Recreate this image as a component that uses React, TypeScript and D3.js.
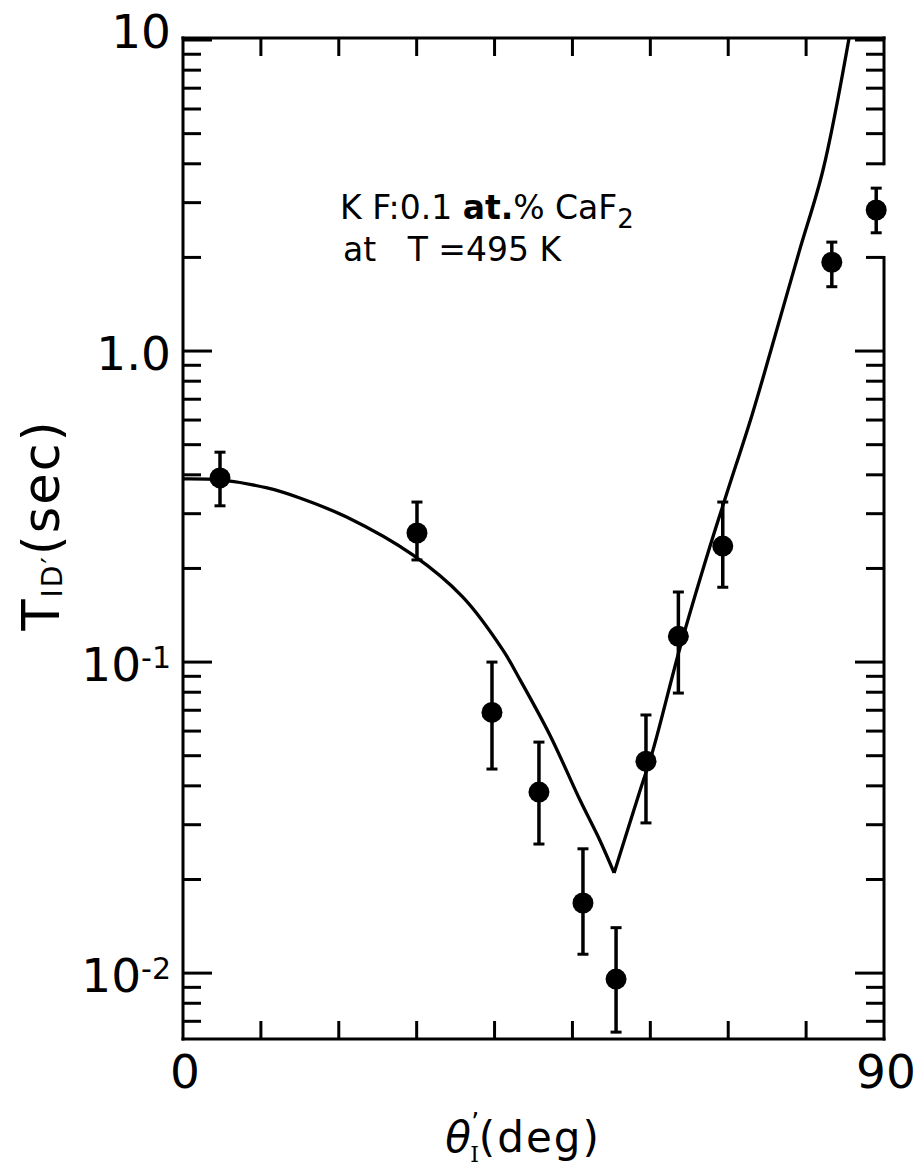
import React from "react";
import * as d3 from "d3";

// ---- data ----
const thetaData = [4.75, 30.04, 39.67, 45.7, 51.35, 55.6, 59.44, 63.6, 69.3, 83.3, 89.0];
const t1Data = [0.391, 0.26, 0.0689, 0.0382, 0.0168, 0.00957, 0.048, 0.121, 0.236, 1.93, 2.84];
const errLow = [0.318, 0.213, 0.0453, 0.026, 0.0115, 0.00646, 0.0304, 0.0795, 0.174, 1.61, 2.4];
const errHigh = [0.473, 0.327, 0.1, 0.0553, 0.0251, 0.014, 0.0676, 0.168, 0.327, 2.24, 3.34];

const curveLeftTheta = [0, 4.75, 10.8, 15.0, 21.07, 29.5, 35.9, 41.1, 43.3, 47.1, 50.97, 53.5, 55.35];
const curveLeftT = [0.388, 0.385, 0.363, 0.337, 0.292, 0.221, 0.162, 0.109, 0.0875, 0.0583, 0.036, 0.0268, 0.021];
const curveRightTheta = [55.35, 58.7, 60.34, 63.8, 67.6, 69.84, 73.05, 75.5, 79.09, 82.17, 85.5];
const curveRightT = [0.021, 0.0388, 0.0521, 0.111, 0.233, 0.35, 0.622, 1.01, 2.08, 3.82, 10.1];

const yMajorValues = [10, 1, 0.1, 0.01];
const yMajorBase = ["10", "1.0", "10", "10"];
const yMajorSup = ["", "", "-1", "-2"];
const xEndValues = [0, 90];
const xEndLabels = ["0", "90"];
const rightAxisGap = [2, 4];

const W = 924;
const H = 1169;
const L = 183, R = 884, T = 38, B = 1039;

export default function App() {
  const x = d3.scaleLinear().domain([0, 90]).range([L, R]);
  const y = d3.scaleLog().domain([0.00614, 10.15]).range([B, T]);

  const yTicks = y.ticks();
  const isMajor = (v: number) => Math.abs(Math.log10(v) - Math.round(Math.log10(v))) < 1e-6;
  const xTicks = x.ticks(9).filter((v) => v > 0 && v < 90);

  const line = d3
    .line<[number, number]>()
    .x((d) => x(d[0]))
    .y((d) => y(d[1]))
    .curve(d3.curveCatmullRom.alpha(0.5));
  const leftPts: [number, number][] = curveLeftTheta.map((t, i) => [t, curveLeftT[i]]);
  const rightPts: [number, number][] = curveRightTheta.map((t, i) => [t, curveRightT[i]]);

  const font = "'DejaVu Sans', sans-serif";
  const sw = 3;

  return (
    <svg
      width={W}
      height={H}
      style={{ position: "absolute", left: 0, top: 0, background: "#fff" }}
      xmlns="http://www.w3.org/2000/svg"
    >
      <defs>
        <clipPath id="plot">
          <rect x={L} y={T} width={R - L} height={B - T} />
        </clipPath>
      </defs>
      <rect x={0} y={0} width={W} height={H} fill="#fff" />

      {/* frame */}
      <g stroke="#000" strokeWidth={sw} strokeLinecap="square" fill="none">
        <line x1={L} y1={T} x2={R} y2={T} />
        <line x1={L} y1={B} x2={R} y2={B} />
        <line x1={L} y1={T} x2={L} y2={B} />
        <line x1={R} y1={T} x2={R} y2={y(rightAxisGap[1])} />
        <line x1={R} y1={y(rightAxisGap[0])} x2={R} y2={B} />
      </g>

      {/* y ticks */}
      <g stroke="#000" strokeWidth={sw}>
        {yTicks.map((v, i) => {
          const len = isMajor(v) ? 29 : 18;
          const yy = y(v);
          const inGap = v > rightAxisGap[0] && v < rightAxisGap[1];
          return (
            <g key={i}>
              <line x1={L} x2={L + len} y1={yy} y2={yy} />
              {!inGap && <line x1={R} x2={R - len} y1={yy} y2={yy} />}
            </g>
          );
        })}
      </g>

      {/* x ticks */}
      <g stroke="#000" strokeWidth={sw}>
        {xTicks.map((v, i) => (
          <g key={i}>
            <line x1={x(v)} x2={x(v)} y1={T} y2={T + 18} />
            <line x1={x(v)} x2={x(v)} y1={B} y2={B - 18} />
          </g>
        ))}
      </g>

      {/* y tick labels */}
      <g fontFamily={font} fontSize={47} fill="#000" textAnchor="end">
        {yMajorValues.map((v, i) => (
          <text key={i} x={L - 12} y={y(v) + (i === 0 ? 8 : 19)}>
            {yMajorBase[i]}
            {yMajorSup[i] && (
              <tspan fontSize={30} dy={-13}>
                {yMajorSup[i]}
              </tspan>
            )}
          </text>
        ))}
      </g>

      {/* x tick labels */}
      <g fontFamily={font} fontSize={47} fill="#000" textAnchor="middle">
        {xEndValues.map((v, i) => (
          <text key={i} x={x(v) + 2} y={1088}>
            {xEndLabels[i]}
          </text>
        ))}
      </g>

      {/* theory curve */}
      <g clipPath="url(#plot)" fill="none" stroke="#000" strokeWidth={3.3} strokeLinejoin="miter">
        <path d={line(leftPts) || ""} />
        <path d={line(rightPts) || ""} />
      </g>

      {/* data with error bars */}
      <g stroke="#000" fill="#000">
        {thetaData.map((t, i) => {
          const cx = x(t);
          return (
            <g key={i}>
              <line x1={cx} x2={cx} y1={y(errLow[i])} y2={y(errHigh[i])} strokeWidth={3.5} />
              <line x1={cx - 5.5} x2={cx + 5.5} y1={y(errLow[i])} y2={y(errLow[i])} strokeWidth={3} />
              <line x1={cx - 5.5} x2={cx + 5.5} y1={y(errHigh[i])} y2={y(errHigh[i])} strokeWidth={3} />
              <circle cx={cx} cy={y(t1Data[i])} r={10.5} stroke="none" />
            </g>
          );
        })}
      </g>

      {/* annotation */}
      <g fontFamily={font} fontSize={33} fill="#000">
        <text x={340} y={219} style={{ whiteSpace: "pre" }}>
          {"K F:0.1 "}
          <tspan fontWeight="bold">at.</tspan>
          {"% CaF"}
          <tspan fontSize={26} dy={9}>2</tspan>
        </text>
        <text x={343} y={261} style={{ whiteSpace: "pre" }}>
          {"at   T =495 K"}
        </text>
      </g>

      {/* y axis title */}
      <text
        transform="translate(59,525) rotate(-90)"
        fontFamily={font}
        fontSize={51}
        fill="#000"
        textAnchor="middle"
        letterSpacing={2}
      >
        T
        <tspan fontSize={28} dy={3}>ID′</tspan>
        <tspan dy={-3}>(sec)</tspan>
      </text>

      {/* x axis title */}
      <text x={523} y={1152} fontFamily={font} fontSize={42} fill="#000" textAnchor="middle">
        <tspan fontStyle="italic">θ</tspan>
        <tspan fontSize={26} dy={-20}>’</tspan>
        <tspan fontSize={22} fontFamily="'DejaVu Serif', serif" dx={-9} dy={30}>I</tspan>
        <tspan dy={-10} letterSpacing={2}>(deg)</tspan>
      </text>
    </svg>
  );
}
